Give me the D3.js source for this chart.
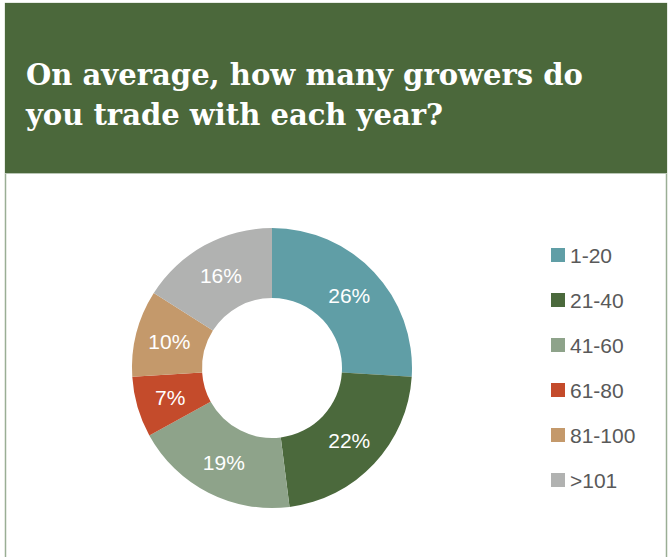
<!DOCTYPE html>
<html><head><meta charset="utf-8">
<script src="https://cdn.jsdelivr.net/npm/d3@7"></script>
<style>body{margin:0;background:#fff}svg{display:block}</style>
</head><body>
<svg id="c" width="670" height="557"></svg>
<script>
const categories = ["1-20","21-40","41-60","61-80","81-100",">101"];
const values = [26,22,19,7,10,16];
const colors = ["#609ea6","#4b693c","#8ea38a","#c44b2b","#c4996b","#b1b2b1"];
const titleLines = ["On average, how many growers do","you trade with each year?"];
const titleWidths = [557,417];

const svg = d3.select("#c");
// frame
svg.append("rect").attr("x",5.5).attr("y",3.5).attr("width",661).attr("height",560)
  .attr("fill","#fff").attr("stroke","#9aae95").attr("stroke-width",1.5);
svg.append("rect").attr("x",5).attr("y",3).attr("width",662).attr("height",170).attr("fill","#4b683b");
svg.append("line").attr("x1",5).attr("x2",667).attr("y1",173.5).attr("y2",173.5).attr("stroke","#b9c6b5").attr("stroke-width",1);

svg.selectAll("text.title").data(titleLines).join("text")
  .attr("class","title")
  .attr("x",26).attr("y",(d,i)=>85+i*40)
  .attr("fill","#fff")
  .attr("font-family","'DejaVu Serif', 'Liberation Serif', serif")
  .attr("font-weight","bold")
  .attr("font-size",30)
  .attr("textLength",(d,i)=>titleWidths[i])
  .attr("lengthAdjust","spacingAndGlyphs")
  .text(d=>d);

const cx=272, cy=368, rOut=140, rIn=70;
const pie = d3.pie().sort(null).value(d=>d.v);
const data = pie(categories.map((c,i)=>({c, v:values[i], col:colors[i]})));
const arc = d3.arc().innerRadius(rIn).outerRadius(rOut);
const labelArc = d3.arc().innerRadius(106).outerRadius(106);
const g = svg.append("g").attr("transform",`translate(${cx},${cy})`);
g.selectAll("path").data(data).join("path").attr("d",arc).attr("fill",d=>d.data.col);
g.selectAll("text").data(data).join("text")
  .attr("transform",d=>`translate(${labelArc.centroid(d)})`)
  .attr("text-anchor","middle").attr("dy","0.36em")
  .attr("fill","#fff").attr("font-family","'Liberation Sans', Arial, sans-serif").attr("font-size",21)
  .text(d=>d.data.v+"%");

const leg = svg.append("g");
const y = d3.scalePoint().domain(categories).range([255,480]);
leg.selectAll("rect").data(categories).join("rect")
  .attr("x",551).attr("y",d=>y(d)-7).attr("width",14).attr("height",14)
  .attr("fill",(d,i)=>colors[i]);
leg.selectAll("text").data(categories).join("text")
  .attr("x",570).attr("y",d=>y(d)).attr("dy","0.36em")
  .attr("fill","#595959").attr("font-family","'Liberation Sans', Arial, sans-serif").attr("font-size",21)
  .text(d=>d);
</script>
</body></html>
